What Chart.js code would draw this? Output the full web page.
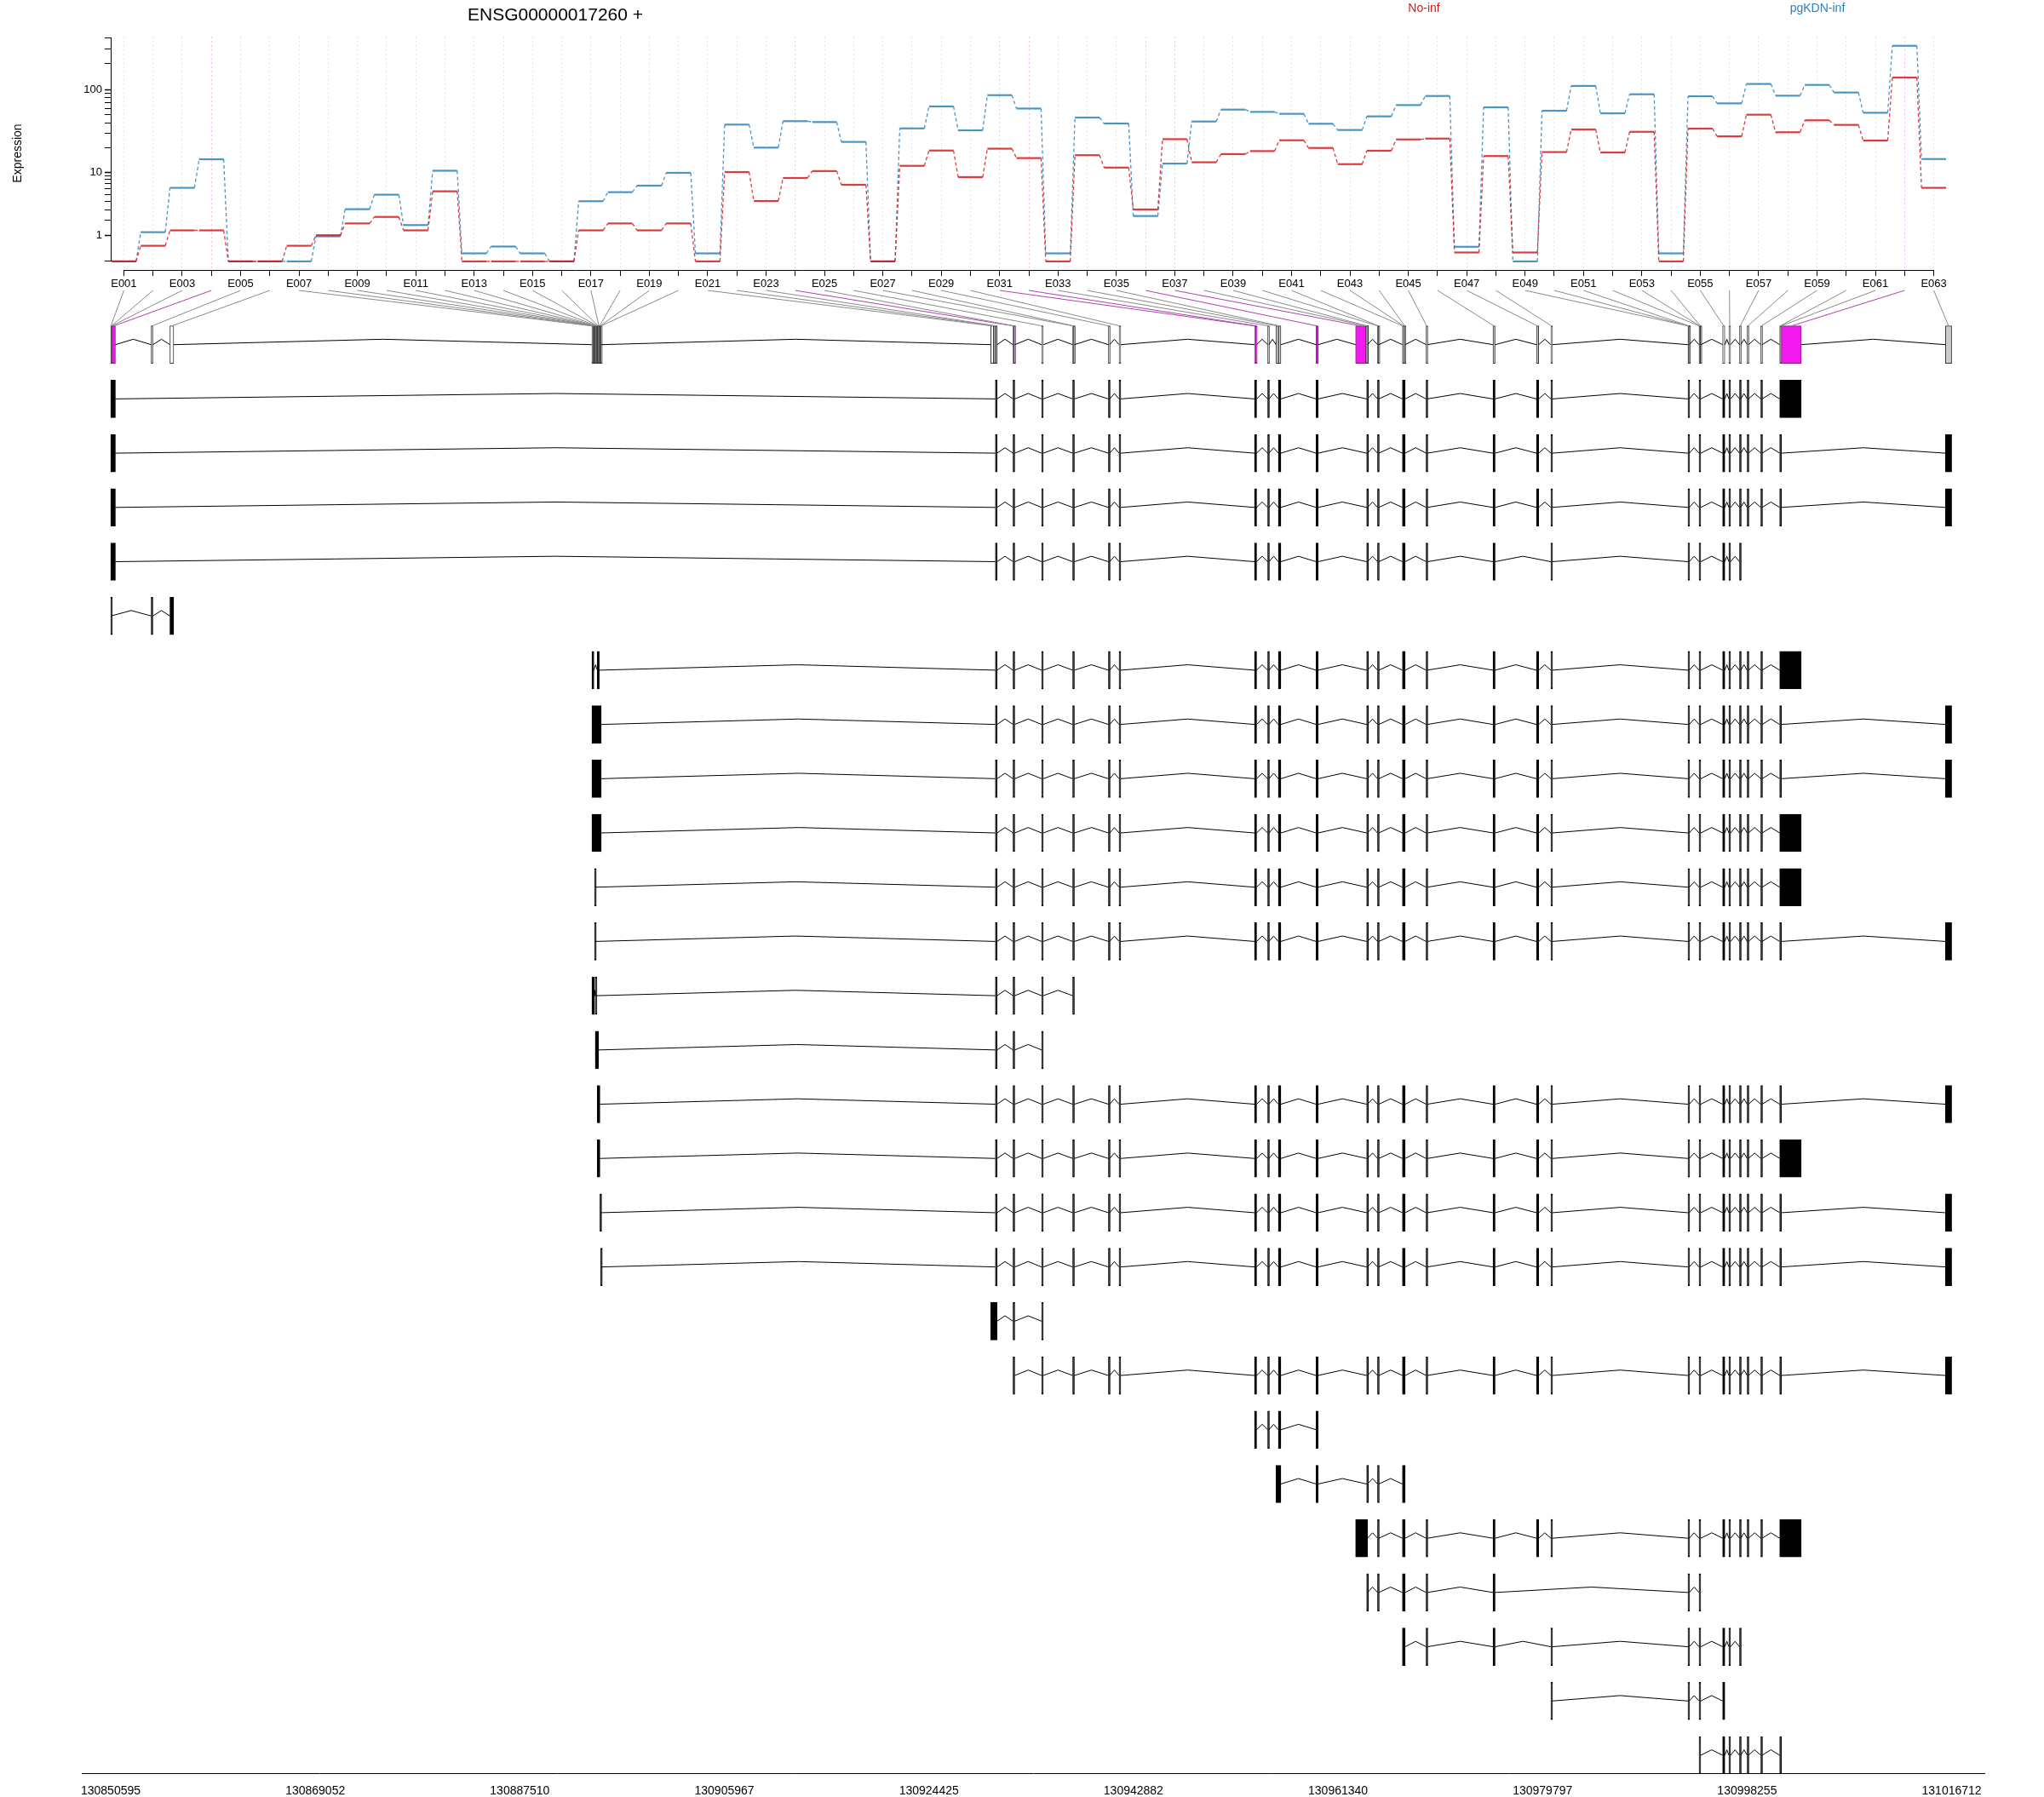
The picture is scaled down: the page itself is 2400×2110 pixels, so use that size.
<!doctype html>
<html>
<head>
<meta charset="utf-8">
<title>ENSG00000017260</title>
<script src="https://cdn.jsdelivr.net/npm/chart.js"></script>
<style>
  body { margin: 0; background: #fff; width: 2400px; height: 2110px; position: relative; overflow: hidden;
         font-family: "Liberation Sans", Arial, sans-serif; }
  canvas { position: absolute; left: 0; top: 0; }
  .lbl { position: absolute; white-space: nowrap; transform: translate(-50%, -50%); line-height: 1; }
</style>
</head>
<body>
<canvas id="expr" width="2400" height="350"></canvas>
<canvas id="model" width="2400" height="2110"></canvas>
<div class="lbl" style="left:652px;top:16px;font-size:21px;">ENSG00000017260 +</div>
<div class="lbl" style="left:1672px;top:9px;font-size:14px;color:#D7191C;">No-inf</div>
<div class="lbl" style="left:2134px;top:9px;font-size:14px;color:#2B83BA;">pgKDN-inf</div>

<script>
Chart.defaults.font.family = '"Liberation Sans", Arial, sans-serif';
Chart.defaults.color = '#000';

// exon bins
var exonIds = ['E001','E002','E003','E004','E005','E006','E007','E008','E009','E010',
  'E011','E012','E013','E014','E015','E016','E017','E018','E019','E020',
  'E021','E022','E023','E024','E025','E026','E027','E028','E029','E030',
  'E031','E032','E033','E034','E035','E036','E037','E038','E039','E040',
  'E041','E042','E043','E044','E045','E046','E047','E048','E049','E050',
  'E051','E052','E053','E054','E055','E056','E057','E058','E059','E060',
  'E061','E062','E063'];

// expression per bin
var noInf = [0, 0.52, 1.30, 1.30, 0, 0, 0.52, 1.02, 1.77, 2.30,
  1.30, 5.56, 0, 0, 0, 0, 1.30, 1.77, 1.30, 1.77,
  0, 10.0, 4.06, 8.38, 10.3, 6.82, 0, 12.0, 18.6, 8.6,
  19.6, 15.0, 0, 16.3, 11.4, 3.03, 25.6, 13.3, 16.8, 18.3,
  24.8, 20.0, 12.6, 18.5, 25.4, 26.0, 0.27, 15.9, 0.27, 17.8,
  33.5, 17.6, 31.4, 0, 34.3, 27.7, 50.3, 31.0, 43.1, 38,
  24.6, 138, 6.2];
var pgKDN = [0, 1.19, 6.2, 14.5, 0, 0, 0, 0.96, 3.06, 4.99,
  1.65, 10.4, 0.24, 0.49, 0.24, 0, 4.03, 5.41, 6.64, 9.77,
  0.24, 38.3, 20.2, 42.1, 41.1, 23.7, 0, 34.5, 63, 32.7,
  85.6, 59.5, 0.24, 46.5, 39.5, 2.38, 12.8, 41.7, 57.8, 54.3,
  51.5, 39.2, 33.0, 48, 65.4, 83.7, 0.48, 61.5, 0, 56,
  110, 52.2, 87.7, 0.24, 83.1, 68.5, 116, 84.4, 113, 92,
  53, 325, 14.6];

var sigExons = ['E004','E024','E031','E032','E036','E037','E062'];
var whiteExons = ['E006','E021','E034','E055'];

var yTickValues = [0,1,2,3,4,5,6,7,8,9,10,20,30,40,50,60,70,80,90,100,200,300,400];
var yTickLabels = ['1','10','100'];

// gene coordinates
var geneStart = 130850595;
var axisTicks = [130850595,130869052,130887510,130905967,130924425,130942882,130961340,130979797,130998255,131016712];
var binStart = [0,40,80,120,3650,5341,43420,43480,43541,43601,
  43661,43722,43782,43842,43903,43963,44024,44084,44144,44205,
  79409,79670,79824,81421,81498,83998,86803,86880,90028,90989,
  103208,103304,104400,105153,105360,108766,112331,113253,113330,114312,
  114370,116556,116641,116726,118693,124728,128648,129953,142324,142362,
  142401,143323,143374,143425,145451,146015,146976,147667,148896,150600,
  150677,150754,165556];
var binEnd = [40,80,120,423,3804,5687,43480,43541,43601,43661,
  43722,43782,43842,43903,43963,44024,44084,44144,44205,44265,
  79670,79824,79977,81498,81575,84152,86880,86956,90144,91143,
  103304,103400,104515,105360,105591,108950,113253,113330,113407,114370,
  114428,116641,116726,116810,118808,124920,128855,130084,142362,142401,
  142439,143374,143425,143476,145651,146169,147091,147782,149011,150677,
  150754,152545,166117];

// transcript pieces, as [first bin, last bin]
var upstream = [[23,23],[24,25],[26,26],[27,28],[29,29],[30,30]];
var central = [[31,32],[33,33],[35,35],[36,36],[39,39],[40,41],[42,44],[45,45],[46,46],[47,47],[48,48]];
var downstream = [[49,51],[52,54],[55,55],[56,56],[57,57],[58,58],[59,59]];
var endBlock = [[60,62]];
var endSplit = [[60,61],[63,63]];

var transcripts = [
  [[1,4]].concat(upstream, central, downstream, endBlock),
  [[1,4]].concat(upstream, central, downstream, endSplit),
  [[1,4]].concat(upstream, central, downstream, endSplit),
  [[1,4]].concat(upstream, [[31,32],[33,33],[35,35],[36,36],[39,39],[40,41],[42,44],[45,45],[46,46],[48,48]],
                 [[49,51],[52,54],[55,55],[56,56],[57,57]]),
  [[1,1],[5,5],[6,6]],
  [[7,9],[15,17]].concat(upstream, central, downstream, endBlock),
  [[7,20]].concat(upstream, central, downstream, endSplit),
  [[7,20]].concat(upstream, central, downstream, endSplit),
  [[7,20]].concat(upstream, central, downstream, endBlock),
  [[11,11]].concat(upstream, central, downstream, endBlock),
  [[11,11]].concat(upstream, central, downstream, endSplit),
  [[7,10],[12,12],[23,23],[24,25],[26,26],[27,28]],
  [[12,16],[23,23],[24,25],[26,26]],
  [[15,18]].concat(upstream, central, downstream, endSplit),
  [[15,18]].concat(upstream, central, downstream, endBlock),
  [[19,19]].concat(upstream, central, downstream, endSplit),
  [[20,20]].concat(upstream, central, downstream, endSplit),
  [[21,21],[22,23],[24,25],[26,26]],
  [[24,25],[26,26],[27,28],[29,29],[30,30]].concat(central, downstream, endSplit),
  [[31,32],[33,33],[35,35],[36,36]],
  [[34,35],[36,36],[39,39],[40,41],[42,44]],
  [[37,39],[40,41],[42,44],[45,45],[46,46],[47,47],[48,48]].concat(downstream, endBlock),
  [[39,39],[40,41],[42,44],[45,45],[46,46],[49,51],[52,54]],
  [[42,44],[45,45],[46,46],[48,48],[49,51],[52,54],[55,55],[56,56],[57,57]],
  [[48,48],[49,51],[52,54],[55,55]],
  [[52,54],[55,55],[56,56],[57,57],[58,58],[59,59],[60,61]]
];

var red = 'rgba(215,25,28,0.85)';
var blue = 'rgba(43,131,186,0.85)';
var magenta = '#F219ED';

function tf(v) { return Math.log10(v + 1); }

function stepPoints(vals) {
  var pts = [];
  vals.forEach(function (v, i) {
    pts.push({ x: i + 1 - 0.42, y: tf(v) });
    pts.push({ x: i + 1 + 0.42, y: tf(v) });
  });
  return pts;
}

var stepSegment = {
  borderDash: function (ctx) { return ctx.p0DataIndex % 2 === 1 ? [4, 3] : undefined; },
  borderWidth: function (ctx) { return ctx.p0DataIndex % 2 === 1 ? 1.3 : undefined; }
};

// R style axis lines: only from first to last tick
var axisLines = {
  id: 'axisLines',
  afterDraw: function (chart) {
    var ctx = chart.ctx, xs = chart.scales.x, ys = chart.scales.y;
    ctx.save();
    ctx.strokeStyle = '#000';
    ctx.lineWidth = 1;
    ctx.beginPath();
    ctx.moveTo(xs.getPixelForValue(1), xs.top + 0.5);
    ctx.lineTo(xs.getPixelForValue(exonIds.length), xs.top + 0.5);
    ctx.moveTo(ys.right - 0.5, ys.getPixelForValue(tf(yTickValues[0])));
    ctx.lineTo(ys.right - 0.5, ys.getPixelForValue(tf(yTickValues[yTickValues.length - 1])));
    ctx.stroke();
    ctx.restore();
  }
};

var exprChart = new Chart(document.getElementById('expr'), {
  type: 'scatter',
  data: {
    datasets: [
      { label: 'No-inf', data: stepPoints(noInf), showLine: true, borderColor: red, borderWidth: 2.2,
        pointRadius: 0, segment: stepSegment },
      { label: 'pgKDN-inf', data: stepPoints(pgKDN), showLine: true, borderColor: blue, borderWidth: 2.2,
        pointRadius: 0, segment: stepSegment }
    ]
  },
  plugins: [axisLines],
  options: {
    responsive: false,
    animation: false,
    layout: { padding: { top: 43, right: 115, left: 0, bottom: 0 } },
    plugins: { legend: { display: false }, tooltip: { enabled: false } },
    scales: {
      x: {
        type: 'linear', min: 0.58, max: 63.42, offset: false,
        afterBuildTicks: function (s) { s.ticks = exonIds.map(function (id, i) { return { value: i + 1 }; }); },
        afterFit: function (s) { s.height = 33; },
        ticks: {
          autoSkip: false, maxRotation: 0, padding: 2, font: { size: 13 },
          callback: function (v) { var i = Math.round(v) - 1; return i % 2 === 0 ? exonIds[i] : ''; }
        },
        grid: {
          color: function (ctx) {
            if (!ctx.tick) return 'rgba(179,179,179,0.4)';
            var id = exonIds[Math.round(ctx.tick.value) - 1];
            return sigExons.indexOf(id) >= 0 ? 'rgba(242,25,237,0.3)' : 'rgba(179,179,179,0.35)';
          },
          lineWidth: 1, tickColor: '#000', tickLength: 7, tickWidth: 1
        },
        border: { display: false, dash: [2, 3] }
      },
      y: {
        type: 'linear', min: -0.1, max: 2.62,
        afterBuildTicks: function (s) { s.ticks = yTickValues.map(function (v) { return { value: tf(v) }; }); },
        afterFit: function (s) { s.width = 131; },
        ticks: {
          autoSkip: false, padding: 3, font: { size: 13 },
          callback: function (v, i) {
            var lbl = String(yTickValues[i]);
            return yTickLabels.indexOf(lbl) >= 0 ? lbl : '';
          }
        },
        grid: {
          drawOnChartArea: false, tickColor: '#000', tickLength: 8,
          tickWidth: function (ctx) { return ctx.tick && yTickLabels.indexOf(String(yTickValues[ctx.index])) >= 0 ? 1.5 : 1; }
        },
        border: { display: false },
        title: { display: true, text: 'Expression', font: { size: 14 }, padding: { top: 13, bottom: 0 } }
      }
    }
  }
});

// ----- gene model and transcripts -----
function exonSpan(a, b) { return [geneStart + binStart[a - 1], geneStart + binEnd[b - 1]]; }

function caretPoints(spans, row) {
  var pts = [];
  for (var k = 0; k + 1 < spans.length; k++) {
    var e0 = spans[k][1], s1 = spans[k + 1][0];
    if (s1 <= e0) continue;
    pts.push({ x: e0, y: row }, { x: (e0 + s1) / 2, y: row - 0.1 }, { x: s1, y: row }, { x: s1, y: null });
  }
  return pts;
}

var geneSpans = exonIds.map(function (id, i) { return exonSpan(i + 1, i + 1); });
var geneBars = geneSpans.map(function (sp) { return { y: 0, x: sp }; });
var introns = caretPoints(geneSpans, 0);
var txBars = [];
transcripts.forEach(function (tx, r) {
  var spans = tx.map(function (p) { return exonSpan(p[0], p[1]); });
  spans.forEach(function (sp) { txBars.push({ y: r + 1, x: sp }); });
  introns = introns.concat(caretPoints(spans, r + 1));
});

var modelChart = new Chart(document.getElementById('model'), {
  type: 'bar',
  data: {
    datasets: [
      { type: 'line', data: [], borderWidth: 1, pointRadius: 0, spanGaps: false, clip: false,
        borderColor: '#8a8a8a',
        segment: {
          borderColor: function (ctx) {
            var id = exonIds[Math.floor(ctx.p0DataIndex / 3)];
            return sigExons.indexOf(id) >= 0 ? '#B040B0' : '#8a8a8a';
          }
        } },
      { type: 'line', data: introns, borderColor: '#000', borderWidth: 1, pointRadius: 0, spanGaps: false },
      { type: 'bar', indexAxis: 'y', grouped: false, barThickness: 44, minBarLength: 2, data: geneBars,
        backgroundColor: exonIds.map(function (id) {
          return sigExons.indexOf(id) >= 0 ? magenta : (whiteExons.indexOf(id) >= 0 ? '#ffffff' : '#CCCCCC');
        }),
        borderColor: exonIds.map(function (id) { return sigExons.indexOf(id) >= 0 ? '#8B1A89' : '#333333'; }),
        borderWidth: 1, borderSkipped: false },
      { type: 'bar', indexAxis: 'y', grouped: false, barThickness: 44, minBarLength: 2, data: txBars,
        backgroundColor: '#000', borderColor: '#000', borderWidth: 1, borderSkipped: false }
    ]
  },
  options: {
    responsive: false,
    animation: false,
    layout: { padding: { top: 341, left: 96, right: 70, bottom: 0 } },
    plugins: { legend: { display: false }, tooltip: { enabled: false } },
    scales: {
      x: {
        type: 'linear', min: geneStart - 2613, max: geneStart + 169070, offset: false, beginAtZero: false,
        afterBuildTicks: function (s) { s.ticks = axisTicks.map(function (v) { return { value: v }; }); },
        afterFit: function (s) { s.height = 28; },
        ticks: { autoSkip: false, maxRotation: 0, padding: 5, font: { size: 14 },
                 callback: function (v) { return String(v); } },
        grid: { display: false, offset: false },
        border: { display: true, color: '#000', width: 1 }
      },
      y: { type: 'linear', min: -1, max: 26.33, reverse: true, display: false, offset: false,
           grid: { offset: false } }
    }
  }
});

// connectors from exon labels to bins
var conn = [];
exonIds.forEach(function (id, i) {
  var px = exprChart.scales.x.getPixelForValue(i + 1);
  var gx = modelChart.scales.x.getValueForPixel(px);
  var mid = (geneSpans[i][0] + geneSpans[i][1]) / 2;
  conn.push({ x: gx, y: -1 }, { x: mid, y: -0.345 }, { x: mid, y: null });
});
modelChart.data.datasets[0].data = conn;
modelChart.update('none');
</script>
</body>
</html>
